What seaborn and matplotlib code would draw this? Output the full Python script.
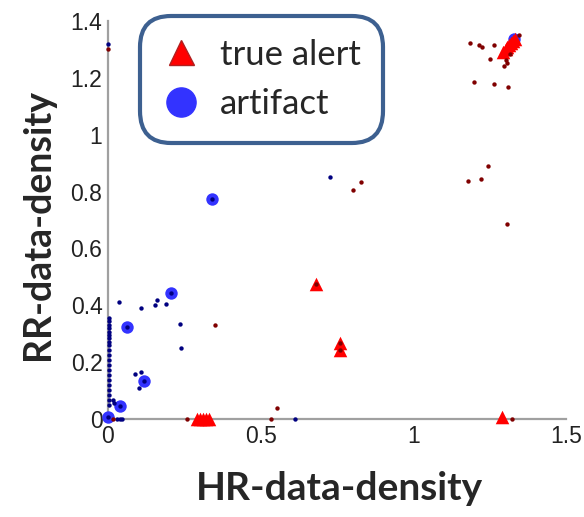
import matplotlib
matplotlib.use("Agg")
import matplotlib.pyplot as plt
from matplotlib.lines import Line2D
import seaborn as sns

# ---- data ----
# big blue circles: artifact
artifact_big_x = [0.001, 0.039, 0.119, 0.061, 0.207, 0.340, 1.330]
artifact_big_y = [0.008, 0.046, 0.135, 0.322, 0.443, 0.773, 1.335]

# small dark-blue dots: artifact
artifact_dot_x = [0.002] * 21 + [
    0.001, 0.017, 0.020, 0.030, 0.040, 0.047, 0.039, 0.036, 0.107, 0.154,
    0.162, 0.190, 0.207, 0.061, 0.237, 0.239, 0.089, 0.108, 0.119, 0.103,
    0.340, 0.613, 0.728, 0.000, 1.330]
artifact_dot_y = [0.355, 0.343, 0.331, 0.319, 0.307, 0.296, 0.284, 0.272,
                  0.261, 0.243, 0.225, 0.208, 0.190, 0.173, 0.155, 0.137,
                  0.120, 0.102, 0.085, 0.067, 0.049] + [
    0.008, 0.067, 0.055, 0.000, 0.000, 0.000, 0.046, 0.413, 0.390, 0.400,
    0.417, 0.405, 0.443, 0.322, 0.334, 0.249, 0.160, 0.166, 0.135, 0.110,
    0.773, 0.000, 0.850, 1.320, 1.335]

# red triangles: true alert
alert_big_x = [0.290, 0.300, 0.310, 0.320, 0.330, 0.682, 0.761, 0.761,
               1.291, 1.295, 1.302, 1.308, 1.314, 1.320, 1.326, 1.332]
alert_big_y = [0.000, 0.000, 0.000, 0.000, 0.000, 0.475, 0.266, 0.243,
               0.008, 1.292, 1.300, 1.308, 1.316, 1.323, 1.330, 1.338]

# small dark-red dots: true alert
alert_dot_x = [0.000, 0.017, 0.258, 0.349, 0.533, 0.553, 0.682, 0.761, 0.761,
               0.802, 0.830, 1.178, 1.223, 1.245, 1.307, 1.323, 1.198, 1.263,
               1.310, 1.184, 1.214, 1.225, 1.263, 1.250, 1.302, 1.307, 1.296,
               1.318, 1.345]
alert_dot_y = [1.300, 0.000, 0.000, 0.330, 0.000, 0.038, 0.475, 0.266, 0.243,
               0.806, 0.832, 0.836, 0.844, 0.891, 0.687, 0.000, 1.186, 1.180,
               1.167, 1.323, 1.314, 1.309, 1.317, 1.267, 1.264, 1.252, 1.240,
               1.284, 1.350]

x_ticks = [0, 0.5, 1, 1.5]
x_tick_labels = ["0", "0.5", "1", "1.5"]
y_ticks = [0, 0.2, 0.4, 0.6, 0.8, 1.0, 1.2, 1.4]
y_tick_labels = ["0", "0.2", "0.4", "0.6", "0.8", "1", "1.2", "1.4"]
legend_labels = ["true alert", "artifact"]
x_label = "HR-data-density"
y_label = "RR-data-density"

# ---- plot ----
sns.set_style("white")
plt.rcParams["font.family"] = ["Liberation Sans", "DejaVu Sans"]

fig = plt.figure(figsize=(5.84, 5.17), dpi=100)
ax = fig.add_axes([108 / 584, 1 - 419 / 517, (566 - 108) / 584, (419 - 21) / 517])

BLUE = "#3333ff"
NAVY = "#000080"
RED = "#ff0000"
DKRED = "#800000"

sns.scatterplot(x=artifact_big_x, y=artifact_big_y, ax=ax, color=BLUE,
                marker="o", s=80, linewidth=0, clip_on=False, zorder=3)
sns.scatterplot(x=artifact_dot_x, y=artifact_dot_y, ax=ax, color=NAVY,
                marker="o", s=10, linewidth=0, clip_on=False, zorder=4)
sns.scatterplot(x=alert_big_x, y=alert_big_y, ax=ax, color=RED,
                marker="^", s=95, linewidth=0, clip_on=False, zorder=5)
sns.scatterplot(x=alert_dot_x, y=alert_dot_y, ax=ax, color=DKRED,
                marker="o", s=10, linewidth=0, clip_on=False, zorder=6)

ax.set_xlim(0, 1.5)
ax.set_ylim(0, 1.4)
ax.set_xticks(x_ticks)
ax.set_xticklabels(x_tick_labels)
ax.set_yticks(y_ticks)
ax.set_yticklabels(y_tick_labels)
for side in ["top", "right"]:
    ax.spines[side].set_visible(False)
for side in ["left", "bottom"]:
    ax.spines[side].set_color("#a0a0a0")
    ax.spines[side].set_linewidth(1.6)
ax.tick_params(axis="both", direction="in", length=4, width=1.0,
               color="#808080", labelsize=16.5, labelcolor="#222222", pad=4)
ax.grid(False)

fig.text(339 / 584, 1 - 500 / 517, x_label, ha="center", va="baseline",
         fontsize=28, fontweight="bold", family=["Lato", "DejaVu Sans"])
fig.text(38 / 584, 1 - 224 / 517, y_label, ha="center", va="center",
         rotation=90, fontsize=27, fontweight="bold", family=["Lato", "DejaVu Sans"])

handles = [
    Line2D([], [], linestyle="none", marker="^", markersize=18,
           markerfacecolor=RED, markeredgecolor="#b02020", markeredgewidth=1),
    Line2D([], [], linestyle="none", marker="o", markersize=21,
           markerfacecolor=BLUE, markeredgecolor=BLUE),
]
leg = ax.legend(handles, legend_labels, loc="upper left",
                bbox_to_anchor=(140 / 584, 1 - 16 / 517),
                bbox_transform=fig.transFigure, borderaxespad=0,
                frameon=True, fancybox=True,
                prop={"family": ["Lato", "DejaVu Sans"], "size": 25},
                handletextpad=0.6, labelspacing=0.5, borderpad=0.65,
                handlelength=1.05)
frame = leg.get_frame()
frame.set_edgecolor("#3d6090")
frame.set_linewidth(3)
frame.set_facecolor("white")
frame.set_alpha(1)
frame.set_boxstyle("round", pad=0, rounding_size=0.9)

fig.savefig("out.png", dpi=100)
